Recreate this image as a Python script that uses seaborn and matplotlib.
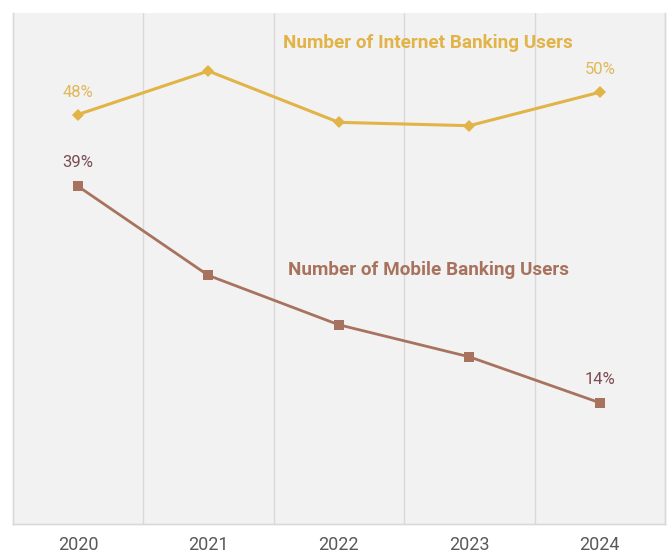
import matplotlib
matplotlib.use("Agg")
import matplotlib.pyplot as plt
import matplotlib.font_manager as fm
import pandas as pd
import seaborn as sns

years = ["2020", "2021", "2022", "2023", "2024"]
internet_users = [48, 51.9, 47.3, 47.0, 50]
mobile_users = [39, 28.7, 23.0, 19.3, 14]
internet_name = "Number of Internet Banking Users"
mobile_name = "Number of Mobile Banking Users"

sns.set_theme(style="white")
names = {f.name for f in fm.fontManager.ttflist}
narrow = "Liberation Sans Narrow" if "Liberation Sans Narrow" in names else "Roboto"
plt.rcParams["font.family"] = ["Roboto", "DejaVu Sans"]

gold = "#E2B346"
brown = "#A8735E"
gold_text = "#E0B85A"
brown_text = "#7A4B52"

df = pd.DataFrame({"year": years, "internet": internet_users, "mobile": mobile_users})
df["pos"] = range(len(years))

fig = plt.figure(figsize=(6.67, 5.56), dpi=100)
ax = fig.add_axes([0.019, 0.0576, 0.978, 0.919])
ax.set_facecolor("#F2F2F2")
ax2 = ax.twinx()

sns.lineplot(data=df, x="pos", y="mobile", ax=ax, color=brown, linewidth=2.0,
             marker="s", markersize=7, markeredgewidth=0)
sns.lineplot(data=df, x="pos", y="internet", ax=ax2, color=gold, linewidth=2.2,
             marker="D", markersize=6, markeredgewidth=0)

ax.set_xlim(-0.5, len(years) - 0.5)
ax.set_ylim(0, 59)
ax2.set_ylim(11.3, 57.1)

for b in [i + 0.5 for i in range(len(years) - 1)]:
    ax.axvline(b, color="#D9D9D9", linewidth=1.0, zorder=0)

ax.set_xticks(df["pos"])
ax.set_xticklabels(years, fontsize=13, color="#595959", family=narrow)
ax.tick_params(axis="x", length=0, pad=9)
ax.set_yticks([])
ax2.set_yticks([])
ax.set_xlabel("")
ax.set_ylabel("")
ax2.set_ylabel("")

for a in (ax, ax2):
    a.spines["top"].set_visible(False)
    for s in ("left", "right", "bottom"):
        a.spines[s].set_color("#D9D9D9")
        a.spines[s].set_linewidth(1.0)

# value labels on first and last points
for i in (0, len(years) - 1):
    ax2.annotate(f"{internet_users[i]:g}%", (i, internet_users[i]), xytext=(0, 16),
                 textcoords="offset points", ha="center", va="center",
                 fontsize=12, color=gold_text)
    ax.annotate(f"{mobile_users[i]:g}%", (i, mobile_users[i]), xytext=(0, 17),
                textcoords="offset points", ha="center", va="center",
                fontsize=12, color=brown_text)

# series names
ax.text(428 / 667, 1 - 43 / 556, internet_name, transform=fig.transFigure,
        ha="center", va="center", fontsize=13.6, fontweight="bold",
        color=gold, family=narrow)
ax.text(429 / 667, 1 - 270 / 556, mobile_name, transform=fig.transFigure,
        ha="center", va="center", fontsize=13.6, fontweight="bold",
        color=brown, family=narrow)

fig.savefig("out.png", dpi=100, facecolor="white")
